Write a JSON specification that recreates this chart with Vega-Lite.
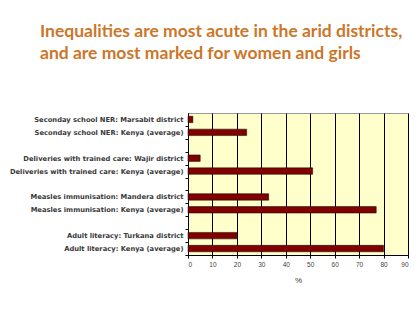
{
  "$schema": "https://vega.github.io/schema/vega-lite/v6.json",
  "width": 220,
  "height": 142,
  "autosize": {"type": "none"},
  "padding": {"left": 188, "top": 113, "right": 9, "bottom": 63},
  "background": "white",
  "title": {
    "text": ["Inequalities are most acute in the arid districts,", "and are most marked for women and girls"],
    "anchor": "start",
    "frame": "group",
    "dx": -148,
    "offset": 51,
    "font": "Lato",
    "fontSize": 17.5,
    "fontWeight": "bold",
    "color": "#CC7629",
    "lineHeight": 22
  },
  "data": {
    "values": [
      {"cat": "Seconday school NER: Marsabit district", "value": 2},
      {"cat": "Seconday school NER: Kenya (average)", "value": 24},
      {"cat": "Deliveries with trained care: Wajir district", "value": 5},
      {"cat": "Deliveries with trained care: Kenya (average)", "value": 51},
      {"cat": "Measles immunisation: Mandera district", "value": 33},
      {"cat": "Measles immunisation: Kenya (average)", "value": 77},
      {"cat": "Adult literacy: Turkana district", "value": 20},
      {"cat": "Adult literacy: Kenya (average)", "value": 80}
    ]
  },
  "mark": {"type": "bar", "color": "#800000", "stroke": "#000000", "strokeWidth": 0.5},
  "encoding": {
    "y": {
      "field": "cat",
      "type": "nominal",
      "scale": {
        "domain": [
          "Seconday school NER: Marsabit district",
          "Seconday school NER: Kenya (average)",
          "gap1",
          "Deliveries with trained care: Wajir district",
          "Deliveries with trained care: Kenya (average)",
          "gap2",
          "Measles immunisation: Mandera district",
          "Measles immunisation: Kenya (average)",
          "gap3",
          "Adult literacy: Turkana district",
          "Adult literacy: Kenya (average)"
        ],
        "paddingInner": 0.5,
        "paddingOuter": 0.25
      },
      "axis": {
        "title": null,
        "labelExpr": "indexof(datum.value, 'gap') == 0 ? '' : datum.value",
        "labelFont": "DejaVu Sans",
        "labelFontWeight": "bold",
        "labelFontSize": 6.75,
        "labelLimit": 0,
        "labelColor": "#3a3a3a",
        "labelPadding": 2,
        "tickOffset": 6.45,
        "labelOffset": -6.45,
        "tickColor": "#000000",
        "tickSize": 3,
        "domainColor": "#000000",
        "domainWidth": 1,
        "grid": false
      }
    },
    "x": {
      "field": "value",
      "type": "quantitative",
      "scale": {"domain": [0, 90], "nice": false},
      "axis": {
        "title": "%",
        "titleFont": "Liberation Sans",
        "titleFontSize": 8,
        "titleFontWeight": "normal",
        "titleColor": "#333333",
        "titlePadding": 9,
        "values": [0, 10, 20, 30, 40, 50, 60, 70, 80, 90],
        "labelFont": "Liberation Sans",
        "labelFontSize": 6.5,
        "labelColor": "#444444",
        "labelPadding": 3,
        "tickColor": "#000000",
        "tickSize": 3,
        "domainColor": "#000000",
        "grid": true,
        "gridColor": "#000000",
        "gridOpacity": 1,
        "gridWidth": 1
      }
    }
  },
  "config": {
    "view": {"fill": "#FFFFCC", "stroke": "#999999", "strokeWidth": 1}
  }
}
